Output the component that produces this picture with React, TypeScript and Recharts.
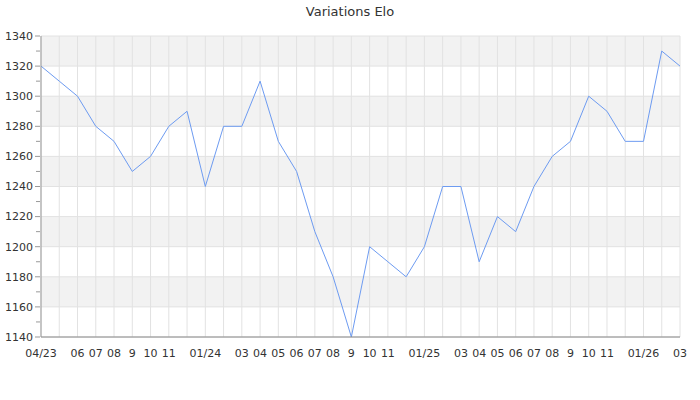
import { LineChart, Line, XAxis, YAxis, CartesianGrid } from 'recharts';

// one point per month, 04/23 -> 03/26
const months = [
  '04/23', '05/23', '06/23', '07/23', '08/23', '09/23', '10/23', '11/23', '12/23',
  '01/24', '02/24', '03/24', '04/24', '05/24', '06/24', '07/24', '08/24', '09/24', '10/24', '11/24', '12/24',
  '01/25', '02/25', '03/25', '04/25', '05/25', '06/25', '07/25', '08/25', '09/25', '10/25', '11/25', '12/25',
  '01/26', '02/26', '03/26',
];

// labels shown under the axis ('' = hidden, no room)
const tickLabels = [
  '04/23', '', '06', '07', '08', '9', '10', '11', '',
  '01/24', '', '03', '04', '05', '06', '07', '08', '9', '10', '11', '',
  '01/25', '', '03', '04', '05', '06', '07', '08', '9', '10', '11', '',
  '01/26', '', '03',
];

const elo = [
  1320, 1310, 1300, 1280, 1270, 1250, 1260, 1280, 1290,
  1240, 1280, 1280, 1310, 1270, 1250, 1210, 1180, 1140, 1200, 1190, 1180,
  1200, 1240, 1240, 1190, 1220, 1210, 1240, 1260, 1270, 1300, 1290, 1270,
  1270, 1330, 1320,
];

const majorTicks = [1140, 1160, 1180, 1200, 1220, 1240, 1260, 1280, 1300, 1320, 1340];
const allTicks = [1140, 1150, 1160, 1170, 1180, 1190, 1200, 1210, 1220, 1230, 1240, 1250, 1260, 1270, 1280, 1290, 1300, 1310, 1320, 1330, 1340];

const data = months.map((m, i) => ({ idx: i, month: m, elo: elo[i] }));
const xTicks = months.map((_, i) => i);

const font = 'DejaVu Sans, sans-serif';

function YTick(props: any) {
  const { x, y, payload } = props;
  const major = payload.value % 20 === 0;
  const axisX = x + 7; // x is where label ends, axis line sits after tickSize+margin
  return (
    <g>
      <line x1={axisX - (major ? 5 : 4)} x2={axisX} y1={y} y2={y} stroke="#999" />
      {major && (
        <text x={axisX - 7} y={y} dy="0.35em" textAnchor="end" fontSize={11} fill="#333" fontFamily={font}>
          {payload.value}
        </text>
      )}
    </g>
  );
}

export default function App() {
  return (
    <div style={{ position: 'absolute', left: 0, top: 0, width: 700, height: 400, background: '#fff', fontFamily: font }}>
      <div style={{ position: 'absolute', top: 4, width: 700, textAlign: 'center', fontSize: 13, color: '#333' }}>
        Variations Elo
      </div>
      <LineChart width={700} height={400} data={data} margin={{ top: 36, right: 20, bottom: 0, left: 0 }}>
        <CartesianGrid
          stroke="#e2e2e2"
          horizontalValues={majorTicks}
          horizontalFill={['#f2f2f2', '#ffffff']}
          fillOpacity={1}
        />
        <XAxis
          dataKey="idx"
          type="number"
          domain={[0, months.length - 1]}
          ticks={xTicks}
          interval={0}
          tickFormatter={(v: number) => tickLabels[v] ?? ''}
          tickLine={false}
          axisLine={{ stroke: '#888' }}
          height={63}
          tick={{ fontSize: 11, fill: '#333', fontFamily: font }}
          tickMargin={6}
        />
        <YAxis
          type="number"
          domain={[1140, 1340]}
          ticks={allTicks}
          interval={0}
          width={41}
          tickLine={false}
          axisLine={{ stroke: '#999' }}
          tick={<YTick />}
        />
        <Line
          type="linear"
          dataKey="elo"
          stroke="#6d9bf1"
          strokeWidth={1}
          dot={false}
          isAnimationActive={false}
        />
      </LineChart>
    </div>
  );
}
